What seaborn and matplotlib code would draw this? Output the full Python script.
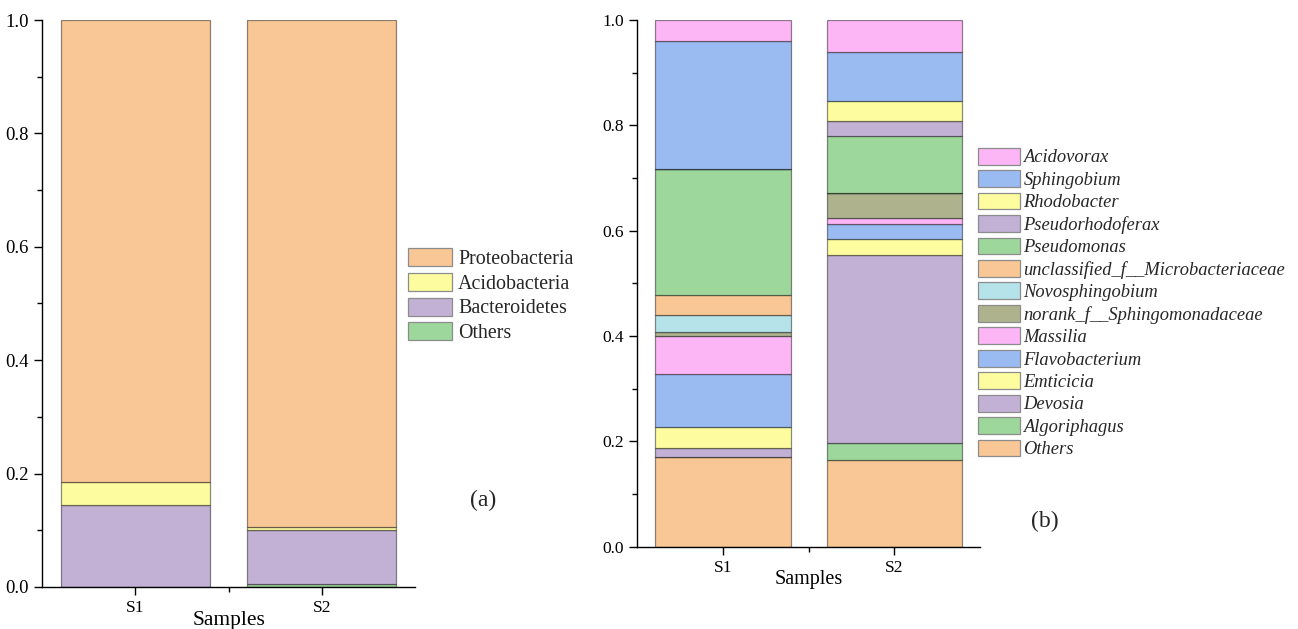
import numpy as np
import pandas as pd
import matplotlib
matplotlib.use("Agg")
import matplotlib.pyplot as plt
from matplotlib.patches import Patch
from matplotlib.ticker import MultipleLocator, FixedLocator
import seaborn as sns

samples = ["S1", "S2"]

# Panel (a): phylum level (bottom -> top)
phyla = ["Others", "Bacteroidetes", "Acidobacteria", "Proteobacteria"]
phylum_others = [0.000, 0.005]
bacteroidetes = [0.145, 0.096]
acidobacteria = [0.040, 0.005]
proteobacteria = [0.815, 0.894]

# Panel (b): genus level (bottom -> top)
genera = ["Others", "Algoriphagus", "Devosia", "Emticicia", "Flavobacterium",
          "Massilia", "norank_f__Sphingomonadaceae", "Novosphingobium",
          "unclassified_f__Microbacteriaceae", "Pseudomonas", "Pseudorhodoferax",
          "Rhodobacter", "Sphingobium", "Acidovorax"]
genus_values = {
    "Others":                            [0.170, 0.164],
    "Algoriphagus":                      [0.000, 0.032],
    "Devosia":                           [0.017, 0.358],
    "Emticicia":                         [0.040, 0.030],
    "Flavobacterium":                    [0.101, 0.028],
    "Massilia":                          [0.072, 0.012],
    "norank_f__Sphingomonadaceae":       [0.007, 0.048],
    "Novosphingobium":                   [0.033, 0.000],
    "unclassified_f__Microbacteriaceae": [0.037, 0.000],
    "Pseudomonas":                       [0.241, 0.107],
    "Pseudorhodoferax":                  [0.000, 0.030],
    "Rhodobacter":                       [0.000, 0.037],
    "Sphingobium":                       [0.242, 0.093],
    "Acidovorax":                        [0.040, 0.061],
}

ORANGE = "#F9C795"
YELLOW = "#FDFC9F"
PURPLE = "#C2B1D5"
GREEN = "#9ED79C"
BLUE = "#9ABBF2"
PINK = "#FCB6F6"
CYAN = "#B5E3E9"
OLIVE = "#AEB38E"

phylum_colors = {"Others": GREEN, "Bacteroidetes": PURPLE,
                 "Acidobacteria": YELLOW, "Proteobacteria": ORANGE}
genus_colors = {
    "Others": ORANGE, "Algoriphagus": GREEN, "Devosia": PURPLE, "Emticicia": YELLOW,
    "Flavobacterium": BLUE, "Massilia": PINK, "norank_f__Sphingomonadaceae": OLIVE,
    "Novosphingobium": CYAN, "unclassified_f__Microbacteriaceae": ORANGE,
    "Pseudomonas": GREEN, "Pseudorhodoferax": PURPLE, "Rhodobacter": YELLOW,
    "Sphingobium": BLUE, "Acidovorax": PINK,
}

sns.set_theme(style="ticks")
plt.rcParams["font.family"] = ["Liberation Serif", "DejaVu Serif"]
plt.rcParams["axes.linewidth"] = 1.0
plt.rcParams["xtick.major.width"] = 1.0
plt.rcParams["ytick.major.width"] = 1.0
plt.rcParams["xtick.minor.width"] = 1.0
plt.rcParams["ytick.minor.width"] = 1.0

EDGE = (0.0, 0.0, 0.0, 0.45)

fig = plt.figure(figsize=(12.98, 6.29), dpi=100)
axA = fig.add_axes([0.0324, 0.0668, 0.2874, 0.9014])
axB = fig.add_axes([0.4908, 0.1308, 0.2643, 0.8374])


def stacked(ax, names, values, colors, width):
    bottom = np.zeros(len(samples))
    for name in names:
        vals = np.asarray(values[name], dtype=float)
        df = pd.DataFrame({"sample": samples, "value": vals})
        sns.barplot(data=df, x="sample", y="value", color=colors[name],
                    saturation=1, width=width, bottom=bottom, ax=ax,
                    edgecolor=EDGE, linewidth=0.9, errorbar=None)
        bottom = bottom + vals


def style_axes(ax, labelpad, ysize, xsize, labsize):
    sns.despine(ax=ax)
    ax.set_xlim(-0.5, 1.5)
    ax.set_ylim(0, 1.0)
    ax.yaxis.set_major_locator(MultipleLocator(0.2))
    ax.yaxis.set_minor_locator(MultipleLocator(0.1))
    ax.xaxis.set_minor_locator(FixedLocator([0.5]))
    ax.set_yticklabels([f"{v:.1f}" for v in ax.get_yticks()])
    ax.tick_params(axis="both", which="major", direction="out", length=6,
                   color="black", labelcolor="black")
    ax.tick_params(axis="y", which="major", labelsize=ysize)
    ax.tick_params(axis="x", which="major", labelsize=xsize)
    ax.tick_params(axis="both", which="minor", direction="out", length=3.5,
                   color="black")
    ax.set_xlabel("Samples", fontsize=labsize, labelpad=labelpad, color="black")
    ax.set_ylabel("")
    for sp in ax.spines.values():
        sp.set_color("black")


# Panel (a)
phylum_values = {"Others": phylum_others, "Bacteroidetes": bacteroidetes,
                 "Acidobacteria": acidobacteria, "Proteobacteria": proteobacteria}
stacked(axA, phyla, phylum_values, phylum_colors, 0.8)
style_axes(axA, -4, 13.5, 12.5, 15.5)
handlesA = [Patch(facecolor=phylum_colors[n], edgecolor=(0.55, 0.55, 0.55), linewidth=0.9,
                  label=n) for n in phyla[::-1]]
fig.legend(handles=handlesA, loc="upper left", bbox_to_anchor=(404 / 1298, 1 - 244 / 629),
           frameon=False, fontsize=14.4, handlelength=2.2, handleheight=1.0,
           handletextpad=0.3, labelspacing=0.2, borderaxespad=0, borderpad=0.2)
fig.text(483 / 1298, 1 - 500 / 629, "(a)", fontsize=17, ha="center", va="center")

# Panel (b)
stacked(axB, genera, genus_values, genus_colors, 0.79)
style_axes(axB, -4.5, 12.5, 12.5, 14.5)
handlesB = [Patch(facecolor=genus_colors[n], edgecolor=(0.55, 0.55, 0.55), linewidth=0.9,
                  label=n) for n in genera[::-1]]
fig.legend(handles=handlesB, loc="upper left", bbox_to_anchor=(974 / 1298, 1 - 144 / 629),
           frameon=False, prop={"size": 13.3, "style": "italic"}, handlelength=2.27,
           handleheight=1.03, handletextpad=0.2, labelspacing=0.2, borderaxespad=0,
           borderpad=0.2)
fig.text(1045 / 1298, 1 - 521 / 629, "(b)", fontsize=17, ha="center", va="center")

fig.savefig("out.png", dpi=100)
